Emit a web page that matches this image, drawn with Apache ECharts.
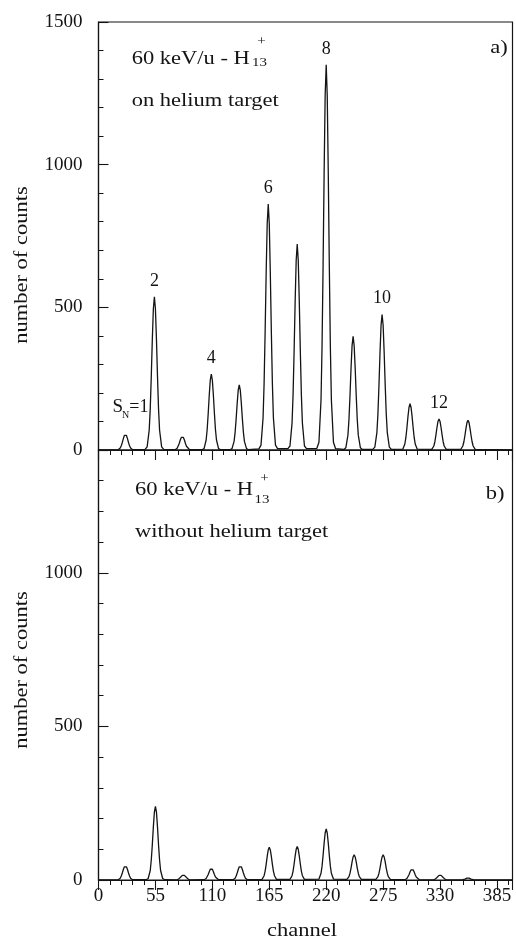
<!DOCTYPE html>
<html>
<head>
<meta charset="utf-8">
<script src="https://cdn.jsdelivr.net/npm/echarts@6/dist/echarts.min.js"></script>
<style>
html,body{margin:0;padding:0;background:#fff;}
#chart{width:516px;height:946px;}
</style>
</head>
<body>
<div id="chart"></div>
<script>
// ---- data ----
const xTicks = [0, 55, 110, 165, 220, 275, 330, 385];
const yTicksA = [0, 500, 1000, 1500];
const yTicksB = [0, 500, 1000];

// panel a) : 60 keV/u H13+ on helium target  [channel, counts]
const spectrumA = [
 [0,0],[19,1],[21,7],[22,15],[23,26],[24,40],[25,51],[26,55],[27,51],[28,40],[29,26],[30,15],[31,7],[33,1],
 [45,2],[47,11],[49,70],[50,145],[51,258],[52,387],[53,494],[54,537],[55,494],[56,387],[57,258],[58,145],[59,70],[61,11],[63,2],
 [74,1],[76,6],[77,13],[78,23],[79,35],[80,44],[81,48],[82,44],[83,35],[84,23],[85,13],[86,6],[88,1],
 [100,1],[102,5],[104,35],[105,72],[106,128],[107,192],[108,245],[109,266],[110,245],[111,192],[112,128],[113,72],[114,35],[116,5],[118,1],
 [127,1],[129,5],[131,30],[132,62],[133,109],[134,164],[135,210],[136,228],[137,210],[138,164],[139,109],[140,62],[141,30],[143,5],[145,1],
 [155,4],[157,17],[159,112],[160,233],[161,414],[162,621],[163,793],[164,862],[165,793],[166,621],[167,414],[168,233],[169,112],[171,17],[173,5],
 [183,5],[185,14],[187,94],[188,195],[189,347],[190,520],[191,664],[192,722],[193,664],[194,520],[195,347],[196,195],[197,94],[199,14],[201,5],
 [211,6],[213,27],[215,176],[216,365],[217,648],[218,972],[219,1242],[220,1350],[221,1242],[222,972],[223,648],[224,365],[225,176],[227,27],[229,5],
 [237,2],[239,8],[241,52],[242,107],[243,191],[244,287],[245,366],[246,398],[247,366],[248,287],[249,191],[250,107],[251,52],[253,8],[255,2],
 [265,2],[267,10],[269,62],[270,128],[271,228],[272,342],[273,437],[274,475],[275,437],[276,342],[277,228],[278,128],[279,62],[281,10],[283,2],
 [294,3],[296,21],[297,44],[298,78],[299,117],[300,149],[301,162],[302,149],[303,117],[304,78],[305,44],[306,21],[308,3],
 [322,2],[324,14],[325,29],[326,52],[327,78],[328,100],[329,109],[330,100],[331,78],[332,52],[333,29],[334,14],[336,2],
 [350,2],[352,14],[353,28],[354,50],[355,75],[356,96],[357,104],[358,96],[359,75],[360,50],[361,28],[362,14],[364,2],
 [400,0]
];

// panel b) : 60 keV/u H13+ without helium target  [channel, counts]
const spectrumB = [
 [0,0],[19,1],[21,6],[22,13],[23,23],[24,34],[25,43],[26,47],[27,43],[28,34],[29,23],[30,13],[31,6],[33,1],
 [46,1],[48,5],[50,31],[51,65],[52,115],[53,173],[54,221],[55,240],[56,221],[57,173],[58,115],[59,65],[60,31],[62,5],[64,1],
 [75,0],[77,2],[78,4],[79,8],[80,12],[81,15],[82,16],[83,15],[84,12],[85,8],[86,4],[87,2],[89,0],
 [102,1],[104,5],[105,10],[106,18],[107,27],[108,35],[109,38],[110,35],[111,27],[112,18],[113,10],[114,5],[116,1],
 [130,1],[132,6],[133,13],[134,23],[135,34],[136,43],[137,47],[138,43],[139,34],[140,23],[141,13],[142,6],[144,1],
 [158,2],[160,14],[161,29],[162,51],[163,77],[164,98],[165,107],[166,98],[167,77],[168,51],[169,29],[170,14],[172,2],
 [185,2],[187,14],[188,29],[189,52],[190,78],[191,100],[192,109],[193,100],[194,78],[195,52],[196,29],[197,14],[199,2],
 [213,3],[215,22],[216,45],[217,80],[218,120],[219,153],[220,166],[221,153],[222,120],[223,80],[224,45],[225,22],[227,3],
 [240,2],[242,11],[243,22],[244,39],[245,59],[246,75],[247,82],[248,75],[249,59],[250,39],[251,22],[252,11],[254,2],
 [268,2],[270,11],[271,22],[272,39],[273,59],[274,75],[275,82],[276,75],[277,59],[278,39],[279,22],[280,11],[282,2],
 [296,1],[298,5],[299,10],[300,17],[301,26],[302,33],[303,36],[304,33],[305,26],[306,17],[307,10],[308,5],[310,1],
 [323,0],[325,2],[326,4],[327,8],[328,12],[329,15],[330,16],[331,15],[332,12],[333,8],[334,4],[335,2],[337,0],
 [350,0],[352,1],[353,2],[354,3],[355,4],[356,6],[357,6],[358,6],[359,4],[360,3],[361,2],[362,1],[364,0],
 [400,0]
];

// peak size labels in panel a)
const peakLabelTexts = ['S_N=1', '2', '4', '6', '8', '10', '12'];
const peakLabelChannels = [26, 54, 109, 164, 220, 274, 329];
const peakLabelCounts = [55, 537, 266, 862, 1350, 475, 109];

// ---- styling ----
const INK = '#141414';
const SERIF = 'Liberation Serif';

function xAxisOpt(gridIndex, showLabels) {
  return {
    type: 'value', gridIndex: gridIndex, min: 0, max: 400, interval: 55,
    axisLine: { show: true, lineStyle: { color: INK, width: 1.2 } },
    axisTick: { show: true, inside: false, length: 10, lineStyle: { color: INK, width: 1.1 } },
    minorTick: { show: true, splitNumber: 5, length: 5, lineStyle: { color: INK, width: 1 } },
    splitLine: { show: false }, minorSplitLine: { show: false },
    axisLabel: {
      show: showLabels, showMaxLabel: false, margin: 7,
      fontFamily: SERIF, fontSize: 19, color: INK,
      formatter: function (v) { return xTicks.indexOf(v) >= 0 ? String(v) : ''; }
    }
  };
}
function yAxisOpt(gridIndex, max, ticks) {
  return {
    type: 'value', gridIndex: gridIndex, min: 0, max: max, interval: 500,
    axisLine: { show: true, lineStyle: { color: INK, width: 1.2 } },
    axisTick: { show: true, inside: true, length: 10, lineStyle: { color: INK, width: 1.1 } },
    minorTick: { show: true, splitNumber: 5, length: 5, lineStyle: { color: INK, width: 1 } },
    splitLine: { show: false }, minorSplitLine: { show: false },
    axisLabel: {
      show: true, margin: 16, showMaxLabel: max === 1500,
      fontFamily: SERIF, fontSize: 19, color: INK,
      formatter: function (v) { return ticks.indexOf(v) >= 0 ? String(v) : ''; }
    }
  };
}

function txt(text, x, y, size, opts) {
  opts = opts || {};
  return {
    type: 'text', x: x, y: y, scaleX: opts.scaleX || 1.25, rotation: opts.rotation || 0,
    style: {
      text: text, fontFamily: SERIF, fontSize: size, fill: INK,
      align: opts.align || 'left', verticalAlign: 'middle'
    }
  };
}

const labelData = peakLabelTexts.map(function (t, i) {
  const item = { value: [peakLabelChannels[i], peakLabelCounts[i]], name: t };
  if (t === 'S_N=1') {
    item.label = { distance: 14, offset: [5, 0] };
  }
  return item;
});

const chart = echarts.init(document.getElementById('chart'), null, { renderer: 'canvas' });
chart.setOption({
  animation: false,
  backgroundColor: '#ffffff',
  grid: [
    { left: 98.5, top: 22, width: 414, height: 428, show: true, borderColor: INK, borderWidth: 1.2, backgroundColor: 'transparent' },
    { left: 98.5, top: 450, width: 414, height: 430, show: true, borderColor: INK, borderWidth: 1.2, backgroundColor: 'transparent' }
  ],
  xAxis: [xAxisOpt(0, false), xAxisOpt(1, true)],
  yAxis: [yAxisOpt(0, 1500, yTicksA), yAxisOpt(1, 1400, yTicksB)],
  series: [
    {
      type: 'line', xAxisIndex: 0, yAxisIndex: 0, data: spectrumA,
      showSymbol: false, symbol: 'none', lineStyle: { color: INK, width: 1.3 }, silent: true
    },
    {
      type: 'line', xAxisIndex: 1, yAxisIndex: 1, data: spectrumB,
      showSymbol: false, symbol: 'none', lineStyle: { color: INK, width: 1.3 }, silent: true
    },
    {
      type: 'scatter', xAxisIndex: 0, yAxisIndex: 0, data: labelData,
      symbolSize: 0, silent: true,
      itemStyle: { opacity: 1, color: INK },
      label: {
        show: true, position: 'top', distance: 7, color: INK,
        fontFamily: SERIF, fontSize: 18,
        formatter: function (p) {
          return p.name === 'S_N=1' ? '{s|S}{n|N}{e|=1}' : p.name;
        },
        rich: {
          s: { fontFamily: SERIF, fontSize: 19, color: INK, lineHeight: 26, verticalAlign: 'middle' },
          n: { fontFamily: SERIF, fontSize: 10, color: INK, lineHeight: 26, verticalAlign: 'bottom', padding: [0, 0, 0, -1] },
          e: { fontFamily: SERIF, fontSize: 18, color: INK, lineHeight: 26, verticalAlign: 'middle' }
        }
      }
    }
  ],
  graphic: [
    // axis names
    txt('number of counts', 22, 265, 18, { rotation: Math.PI / 2, align: 'center' }),
    txt('number of counts', 22, 670, 18, { rotation: Math.PI / 2, align: 'center' }),
    txt('channel', 302, 931, 18, { align: 'center' }),
    // panel a) annotations
    txt('60 keV/u - H', 131.7, 59, 18),
    txt('13', 252, 63, 13, { scaleX: 1.15 }),
    txt('+', 261.5, 41.5, 13, { scaleX: 1.15, align: 'center' }),
    txt('on helium target', 131.7, 101.5, 18),
    txt('a)', 499, 48, 18, { align: 'center' }),
    // panel b) annotations
    txt('60 keV/u - H', 135, 490, 18),
    txt('13', 254.5, 500, 13, { scaleX: 1.15 }),
    txt('+', 264.5, 479, 13, { scaleX: 1.15, align: 'center' }),
    txt('without helium target', 135, 532.5, 18),
    txt('b)', 495, 494, 18, { align: 'center' })
  ]
});
</script>
</body>
</html>
